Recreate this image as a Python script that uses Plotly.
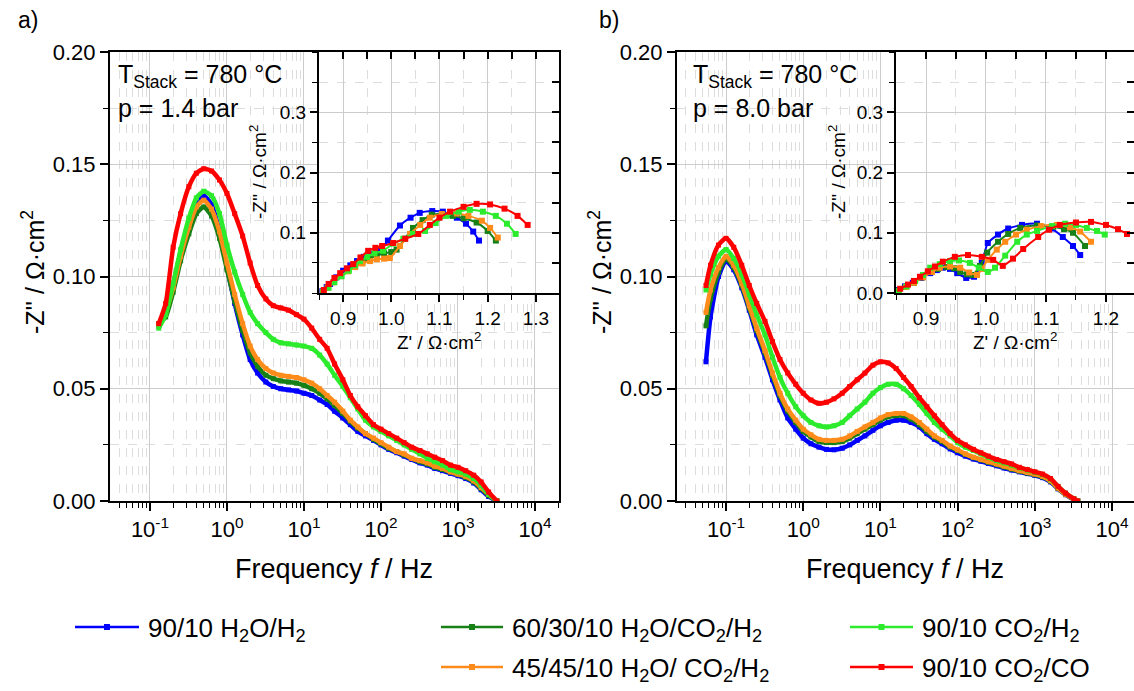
import plotly.graph_objects as go

# ---------------- data ----------------
series_names = ["90/10 H<sub>2</sub>O/H<sub>2</sub>",
                "60/30/10 H<sub>2</sub>O/CO<sub>2</sub>/H<sub>2</sub>",
                "45/45/10 H<sub>2</sub>O/ CO<sub>2</sub>/H<sub>2</sub>",
                "90/10 CO<sub>2</sub>/H<sub>2</sub>",
                "90/10 CO<sub>2</sub>/CO"]
series_colors = ["#0000FF", "#178017", "#FF8C1A", "#2CEB2C", "#FF0000"]

# Panel a: Bode plot, p = 1.4 bar
freq_a = [0.13, 0.16, 0.2, 0.25, 0.32, 0.4, 0.5, 0.63, 0.8, 1.0, 1.26, 1.6, 2.0, 2.5, 3.2,
          4.0, 5.0, 6.3, 8.0, 10, 12.6, 16, 20, 25, 32, 40, 50, 63, 80, 100, 126, 160,
          200, 250, 320, 400, 500, 630, 800, 1000, 1260, 1600, 2000, 2500, 3200]
zi_a_blue = [0.078, 0.085, 0.096, 0.111, 0.124, 0.133, 0.136, 0.132, 0.120, 0.104, 0.088, 0.074,
             0.063, 0.057, 0.053, 0.051, 0.050, 0.0495, 0.049, 0.048, 0.047, 0.045, 0.043, 0.040,
             0.037, 0.034, 0.031, 0.029, 0.027, 0.025, 0.023, 0.0215, 0.020, 0.0185, 0.017, 0.016,
             0.0145, 0.0135, 0.0123, 0.0113, 0.010, 0.008, 0.005, 0.002, 0.0]
zi_a_dkgreen = [0.079, 0.082, 0.093, 0.107, 0.119, 0.128, 0.131, 0.127, 0.117, 0.103, 0.089, 0.076,
                0.066, 0.060, 0.056, 0.0545, 0.0535, 0.053, 0.0525, 0.0515, 0.050, 0.048, 0.0455,
                0.0425, 0.039, 0.0355, 0.0325, 0.030, 0.0275, 0.0255, 0.0235, 0.022, 0.0205, 0.019,
                0.0175, 0.0165, 0.015, 0.014, 0.0128, 0.0118, 0.0105, 0.0085, 0.0055, 0.0025, 0.0]
zi_a_orange = [0.078, 0.084, 0.095, 0.109, 0.122, 0.131, 0.134, 0.130, 0.120, 0.106, 0.092, 0.079,
               0.069, 0.063, 0.059, 0.057, 0.056, 0.0555, 0.055, 0.054, 0.0525, 0.050, 0.047, 0.044,
               0.040, 0.036, 0.033, 0.030, 0.028, 0.026, 0.024, 0.022, 0.021, 0.019, 0.018, 0.017,
               0.0155, 0.0145, 0.013, 0.012, 0.011, 0.009, 0.006, 0.003, 0.0]
zi_a_green = [0.077, 0.083, 0.097, 0.112, 0.126, 0.135, 0.138, 0.136, 0.128, 0.114, 0.102, 0.092,
              0.084, 0.079, 0.075, 0.072, 0.0705, 0.070, 0.0695, 0.069, 0.068, 0.065, 0.061, 0.056,
              0.051, 0.046, 0.041, 0.036, 0.033, 0.031, 0.029, 0.027, 0.025, 0.023, 0.021, 0.019,
              0.0175, 0.016, 0.014, 0.013, 0.012, 0.010, 0.007, 0.003, 0.0]
zi_a_red = [0.079, 0.088, 0.113, 0.128, 0.140, 0.146, 0.148, 0.147, 0.143, 0.137, 0.128, 0.118,
            0.106, 0.096, 0.090, 0.087, 0.086, 0.085, 0.083, 0.081, 0.077, 0.072, 0.068, 0.061,
            0.054, 0.047, 0.042, 0.038, 0.034, 0.032, 0.030, 0.028, 0.026, 0.024, 0.0225, 0.021,
            0.0195, 0.018, 0.016, 0.015, 0.0135, 0.0115, 0.0085, 0.004, 0.0]

# Panel b: Bode plot, p = 8.0 bar
freq_b = [0.055, 0.063, 0.08, 0.1, 0.126, 0.16, 0.2, 0.25, 0.32, 0.4, 0.5, 0.63, 0.8, 1.0, 1.26,
          1.6, 2.0, 2.5, 3.2, 4.0, 5.0, 6.3, 8.0, 10, 12.6, 16, 20, 25, 32, 40, 50, 63, 80, 100,
          126, 160, 200, 250, 320, 400, 500, 630, 800, 1000, 1260, 1600, 2000, 2500, 3200, 3600]
zi_b_blue = [0.062, 0.082, 0.100, 0.107, 0.103, 0.095, 0.085, 0.074, 0.064, 0.054, 0.045, 0.037,
             0.032, 0.028, 0.0255, 0.024, 0.023, 0.0228, 0.0235, 0.025, 0.027, 0.029, 0.0315,
             0.0335, 0.035, 0.036, 0.036, 0.035, 0.033, 0.030, 0.0275, 0.0255, 0.0232, 0.0215,
             0.020, 0.0187, 0.0177, 0.0167, 0.0157, 0.0147, 0.0138, 0.013, 0.0122, 0.0114, 0.0104,
             0.0085, 0.0054, 0.0028, 0.0007, 0.0]
zi_b_dkgreen = [0.078, 0.090, 0.102, 0.108, 0.104, 0.096, 0.086, 0.076, 0.066, 0.056, 0.047, 0.040,
                0.035, 0.031, 0.0285, 0.0265, 0.026, 0.026, 0.0265, 0.028, 0.030, 0.032, 0.034,
                0.036, 0.0375, 0.038, 0.038, 0.0365, 0.034, 0.031, 0.0285, 0.0265, 0.024, 0.0225,
                0.0207, 0.0193, 0.0183, 0.0172, 0.0162, 0.0152, 0.0142, 0.0133, 0.0125, 0.0117,
                0.0107, 0.0088, 0.0056, 0.003, 0.0008, 0.0]
zi_b_orange = [0.084, 0.094, 0.104, 0.109, 0.105, 0.097, 0.087, 0.077, 0.067, 0.057, 0.048, 0.041,
               0.036, 0.032, 0.0295, 0.0275, 0.027, 0.027, 0.0275, 0.029, 0.031, 0.033, 0.035,
               0.037, 0.0385, 0.039, 0.039, 0.0375, 0.035, 0.032, 0.029, 0.027, 0.0245, 0.0228,
               0.021, 0.0195, 0.0185, 0.0175, 0.0165, 0.0155, 0.0145, 0.0135, 0.0127, 0.012, 0.011,
               0.009, 0.0058, 0.003, 0.0008, 0.0]
zi_b_green = [0.094, 0.101, 0.109, 0.112, 0.108, 0.101, 0.092, 0.083, 0.074, 0.064, 0.055, 0.048,
              0.042, 0.038, 0.035, 0.0335, 0.033, 0.0335, 0.035, 0.038, 0.041, 0.044, 0.048,
              0.0505, 0.052, 0.052, 0.050, 0.047, 0.043, 0.039, 0.035, 0.032, 0.029, 0.026, 0.024,
              0.0225, 0.021, 0.0195, 0.018, 0.017, 0.016, 0.0148, 0.0138, 0.0128, 0.0118, 0.0098,
              0.0065, 0.0035, 0.001, 0.0]
zi_b_red = [0.096, 0.105, 0.114, 0.117, 0.113, 0.105, 0.096, 0.088, 0.080, 0.071, 0.063, 0.057,
            0.052, 0.048, 0.045, 0.0435, 0.044, 0.0455, 0.048, 0.051, 0.054, 0.057, 0.0605, 0.062,
            0.0615, 0.059, 0.055, 0.051, 0.046, 0.042, 0.038, 0.034, 0.030, 0.027, 0.025, 0.023,
            0.0215, 0.020, 0.0185, 0.0175, 0.0165, 0.015, 0.014, 0.013, 0.012, 0.010, 0.0065,
            0.0035, 0.001, 0.0]

# Inset a: Nyquist, p = 1.4 bar
zr_ia_blue = [0.857, 0.866, 0.873, 0.886, 0.900, 0.915, 0.929, 0.943, 0.956, 0.968, 0.977, 0.993,
              1.018, 1.040, 1.059, 1.085, 1.107, 1.125, 1.136, 1.155, 1.170, 1.182]
zi_ia_blue = [0.003, 0.010, 0.015, 0.026, 0.037, 0.046, 0.053, 0.060, 0.065, 0.068, 0.070, 0.087,
              0.112, 0.125, 0.133, 0.136, 0.135, 0.130, 0.125, 0.115, 0.102, 0.087]
zr_ia_dkgreen = [0.858, 0.868, 0.880, 0.895, 0.910, 0.925, 0.940, 0.955, 0.970, 0.985, 1.000, 1.011,
                 1.028, 1.045, 1.065, 1.084, 1.105, 1.128, 1.150, 1.177, 1.200, 1.217]
zi_ia_dkgreen = [0.002, 0.009, 0.018, 0.028, 0.037, 0.045, 0.051, 0.057, 0.062, 0.066, 0.068, 0.072,
                 0.090, 0.108, 0.121, 0.130, 0.131, 0.128, 0.124, 0.117, 0.103, 0.087]
zr_ia_orange = [0.858, 0.868, 0.880, 0.895, 0.910, 0.925, 0.940, 0.956, 0.970, 0.985, 0.997, 1.018,
                1.039, 1.060, 1.080, 1.105, 1.136, 1.160, 1.188, 1.205, 1.221]
zi_ia_orange = [0.002, 0.009, 0.018, 0.028, 0.036, 0.043, 0.049, 0.053, 0.056, 0.057, 0.058, 0.078,
                0.098, 0.113, 0.125, 0.131, 0.132, 0.128, 0.120, 0.108, 0.092]
zr_ia_green = [0.859, 0.870, 0.882, 0.897, 0.912, 0.925, 0.935, 0.950, 0.965, 0.983, 1.004, 1.025,
               1.045, 1.070, 1.092, 1.115, 1.140, 1.163, 1.190, 1.217, 1.240, 1.258]
zi_ia_green = [0.002, 0.009, 0.018, 0.028, 0.037, 0.046, 0.053, 0.060, 0.066, 0.070, 0.082, 0.090,
               0.098, 0.103, 0.116, 0.128, 0.135, 0.138, 0.135, 0.128, 0.115, 0.098]
zr_ia_red = [0.860, 0.870, 0.882, 0.894, 0.908, 0.921, 0.936, 0.952, 0.967, 0.981, 1.004, 1.029,
             1.056, 1.080, 1.100, 1.122, 1.150, 1.177, 1.205, 1.235, 1.262, 1.283]
zi_ia_red = [0.005, 0.015, 0.025, 0.033, 0.041, 0.048, 0.059, 0.070, 0.075, 0.078, 0.083, 0.090,
             0.098, 0.113, 0.125, 0.135, 0.143, 0.148, 0.147, 0.140, 0.128, 0.113]

# Inset b: Nyquist, p = 8.0 bar
zr_ib_blue = [0.852, 0.865, 0.878, 0.892, 0.907, 0.918, 0.928, 0.940, 0.952, 0.967, 0.980, 0.993,
              1.003, 1.020, 1.037, 1.060, 1.085, 1.110, 1.128, 1.145, 1.157]
zi_ib_blue = [0.005, 0.011, 0.017, 0.025, 0.033, 0.038, 0.042, 0.040, 0.033, 0.025, 0.027, 0.050,
              0.083, 0.097, 0.107, 0.113, 0.115, 0.107, 0.093, 0.078, 0.063]
zr_ib_dkgreen = [0.853, 0.866, 0.880, 0.893, 0.907, 0.920, 0.935, 0.947, 0.957, 0.968, 0.978, 0.990,
                 1.002, 1.020, 1.037, 1.057, 1.085, 1.112, 1.130, 1.145, 1.165]
zi_ib_dkgreen = [0.004, 0.010, 0.017, 0.026, 0.035, 0.040, 0.043, 0.041, 0.035, 0.031, 0.030, 0.045,
                 0.067, 0.085, 0.098, 0.108, 0.112, 0.110, 0.106, 0.100, 0.078]
zr_ib_orange = [0.854, 0.867, 0.880, 0.895, 0.910, 0.923, 0.940, 0.957, 0.972, 0.985, 0.993, 1.003,
                1.018, 1.032, 1.050, 1.068, 1.092, 1.118, 1.140, 1.157, 1.175]
zi_ib_orange = [0.003, 0.010, 0.017, 0.026, 0.035, 0.042, 0.044, 0.042, 0.034, 0.030, 0.040, 0.055,
                0.072, 0.085, 0.097, 0.105, 0.111, 0.113, 0.109, 0.102, 0.085]
zr_ib_green = [0.855, 0.868, 0.882, 0.895, 0.907, 0.923, 0.940, 0.955, 0.973, 0.988, 1.003, 1.015,
               1.032, 1.052, 1.068, 1.085, 1.110, 1.132, 1.150, 1.168, 1.185, 1.198]
zi_ib_green = [0.003, 0.011, 0.020, 0.030, 0.042, 0.048, 0.053, 0.054, 0.050, 0.042, 0.035, 0.042,
               0.062, 0.085, 0.097, 0.103, 0.111, 0.115, 0.113, 0.108, 0.103, 0.097]
zr_ib_red = [0.857, 0.870, 0.880, 0.890, 0.903, 0.915, 0.928, 0.948, 0.970, 0.993, 1.012, 1.028,
             1.045, 1.062, 1.087, 1.105, 1.123, 1.150, 1.175, 1.200, 1.220, 1.235]
zi_ib_red = [0.007, 0.014, 0.020, 0.027, 0.036, 0.044, 0.052, 0.060, 0.063, 0.060, 0.055, 0.045,
             0.057, 0.073, 0.093, 0.105, 0.113, 0.117, 0.118, 0.113, 0.106, 0.098]

freq_tickvals = [0.1, 1, 10, 100, 1000, 10000]
freq_ticktext = ["10<sup>-1</sup>", "10<sup>0</sup>", "10<sup>1</sup>", "10<sup>2</sup>",
                 "10<sup>3</sup>", "10<sup>4</sup>"]

# ---------------- layout helpers ----------------
W, H = 1134, 691
FONT = "Liberation Sans, Arial, sans-serif"


def px(x):
    return x / W


def py(y):
    return 1 - y / H


MAIN_Y = [py(501), py(52)]
INSET_Y = [py(293), py(52)]
A_X = [px(110), px(559)]
IA_X = [px(319), px(559)]
B_X = [px(677), 1.0]
IB_X = [px(896), 1.0]

fig = go.Figure()

bode_a = [zi_a_blue, zi_a_dkgreen, zi_a_orange, zi_a_green, zi_a_red]
bode_b = [zi_b_blue, zi_b_dkgreen, zi_b_orange, zi_b_green, zi_b_red]
nyq_a = [(zr_ia_blue, zi_ia_blue), (zr_ia_dkgreen, zi_ia_dkgreen), (zr_ia_orange, zi_ia_orange),
         (zr_ia_green, zi_ia_green), (zr_ia_red, zi_ia_red)]
nyq_b = [(zr_ib_blue, zi_ib_blue), (zr_ib_dkgreen, zi_ib_dkgreen), (zr_ib_orange, zi_ib_orange),
         (zr_ib_green, zi_ib_green), (zr_ib_red, zi_ib_red)]

for i in range(5):
    fig.add_trace(go.Scatter(x=freq_a, y=bode_a[i], mode="lines+markers", name=series_names[i],
                             line=dict(color=series_colors[i], width=4.5, shape="spline", smoothing=0.6),
                             marker=dict(symbol="square", size=5, color=series_colors[i]),
                             xaxis="x", yaxis="y", showlegend=False))
for i in range(5):
    fig.add_trace(go.Scatter(x=nyq_a[i][0], y=nyq_a[i][1], mode="lines+markers", name=series_names[i],
                             line=dict(color=series_colors[i], width=2, shape="spline", smoothing=0.6),
                             marker=dict(symbol="square", size=6, color=series_colors[i]),
                             xaxis="x2", yaxis="y2", showlegend=False))
for i in range(5):
    fig.add_trace(go.Scatter(x=freq_b, y=bode_b[i], mode="lines+markers", name=series_names[i],
                             line=dict(color=series_colors[i], width=4.5, shape="spline", smoothing=0.6),
                             marker=dict(symbol="square", size=5, color=series_colors[i]),
                             xaxis="x3", yaxis="y3", showlegend=False))
for i in range(5):
    fig.add_trace(go.Scatter(x=nyq_b[i][0], y=nyq_b[i][1], mode="lines+markers", name=series_names[i],
                             line=dict(color=series_colors[i], width=2, shape="spline", smoothing=0.6),
                             marker=dict(symbol="square", size=6, color=series_colors[i]),
                             xaxis="x4", yaxis="y4", showlegend=False))
# dummy traces for mirrored inside ticks of the insets
fig.add_trace(go.Scatter(x=[None], y=[None], xaxis="x5", yaxis="y5", showlegend=False, hoverinfo="skip"))
fig.add_trace(go.Scatter(x=[None], y=[None], xaxis="x6", yaxis="y6", showlegend=False, hoverinfo="skip"))

minor_log = [m * 10 ** e for e in range(-2, 5) for m in range(2, 10)]

GRID = "#cccccc"
MGRID = "#dddddd"


def main_x(domain, rng, anchor):
    return dict(type="log", domain=domain, range=rng, anchor=anchor, automargin=False,
                showline=True, linecolor="black", linewidth=2, mirror=True,
                ticks="outside", ticklen=8, tickwidth=1.5, tickcolor="black",
                tickmode="array", tickvals=freq_tickvals, ticktext=freq_ticktext,
                tickfont=dict(family=FONT, size=22, color="black"),
                showgrid=True, gridcolor=GRID, gridwidth=1, zeroline=False,
                minor=dict(tickmode="array", tickvals=minor_log, ticks="outside", ticklen=5,
                           tickwidth=1.2, tickcolor="black", showgrid=True, gridcolor=MGRID,
                           griddash="dash", gridwidth=1))


def main_y(anchor):
    return dict(domain=MAIN_Y, range=[0, 0.2], anchor=anchor, automargin=False,
                showline=True, linecolor="black", linewidth=2, mirror=True,
                ticks="outside", ticklen=8, tickwidth=1.5, tickcolor="black",
                dtick=0.05, tick0=0, tickformat=".2f",
                tickfont=dict(family=FONT, size=22, color="black"),
                showgrid=True, gridcolor=GRID, gridwidth=1, zeroline=False,
                minor=dict(dtick=0.025, ticks="outside", ticklen=5, tickwidth=1.2, tickcolor="black",
                           showgrid=True, gridcolor=MGRID, griddash="dash", gridwidth=1))


def inset_x(domain, rng, anchor, tvals):
    return dict(domain=domain, range=rng, anchor=anchor, automargin=False,
                showline=True, linecolor="black", linewidth=2, mirror=True,
                ticks="outside", ticklen=7, tickwidth=1.5, tickcolor="black",
                tickmode="array", tickvals=tvals, ticktext=["%.1f" % v for v in tvals],
                tickfont=dict(family=FONT, size=19, color="black"),
                showgrid=True, gridcolor=GRID, gridwidth=1, zeroline=False,
                minor=dict(dtick=0.05, tick0=0.85, ticks="outside", ticklen=5, tickwidth=1.2,
                           tickcolor="black", showgrid=True, gridcolor=MGRID, griddash="dash"))


def inset_y(anchor, tvals):
    return dict(domain=INSET_Y, range=[0, 0.4], anchor=anchor, automargin=False,
                showline=True, linecolor="black", linewidth=2, mirror=True,
                ticks="outside", ticklen=7, tickwidth=1.5, tickcolor="black",
                tickmode="array", tickvals=tvals, ticktext=["%.1f" % v for v in tvals],
                tickfont=dict(family=FONT, size=19, color="black"),
                showgrid=True, gridcolor=GRID, gridwidth=1, zeroline=False,
                minor=dict(dtick=0.05, tick0=0, ticks="outside", ticklen=5, tickwidth=1.2,
                           tickcolor="black", showgrid=True, gridcolor=MGRID, griddash="dash"))


def mirror_x(over, anchor, rng, tvals):
    return dict(overlaying=over, anchor=anchor, side="top", range=rng, automargin=False,
                tickmode="array", tickvals=tvals, ticks="inside", ticklen=7, tickwidth=1.5,
                tickcolor="black", showticklabels=False, showgrid=False, showline=False,
                zeroline=False)


def mirror_y(over, anchor, tvals):
    return dict(overlaying=over, anchor=anchor, side="right", range=[0, 0.4], automargin=False,
                tickmode="array", tickvals=tvals, ticks="inside", ticklen=7, tickwidth=1.5,
                tickcolor="black", showticklabels=False, showgrid=False, showline=False,
                zeroline=False)


ia_range = [0.85, 1.348]
ib_range = [0.85, 1.2467]
ia_mtx = [0.85 + 0.05 * k for k in range(1, 10)]
ib_mtx = [0.85 + 0.05 * k for k in range(1, 8)]
my_t = [0.05 * k for k in range(1, 8)]

fig.update_layout(
    width=W, height=H, margin=dict(l=0, r=0, t=0, b=0, pad=0, autoexpand=False),
    paper_bgcolor="white", plot_bgcolor="white",
    font=dict(family=FONT, color="black"),
    xaxis=main_x(A_X, [-1.519, 4.312], "y"),
    yaxis=main_y("x"),
    xaxis2=inset_x(IA_X, ia_range, "y2", [0.9, 1.0, 1.1, 1.2, 1.3]),
    yaxis2=inset_y("x2", [0.1, 0.2, 0.3]),
    xaxis3=main_x(B_X, [-1.635, 4.285], "y3"),
    yaxis3=main_y("x3"),
    xaxis4=inset_x(IB_X, ib_range, "y4", [0.9, 1.0, 1.1, 1.2]),
    yaxis4=inset_y("x4", [0.0, 0.1, 0.2, 0.3]),
    xaxis5=mirror_x("x2", "y2", ia_range, ia_mtx),
    yaxis5=mirror_y("y2", "x2", my_t),
    xaxis6=mirror_x("x4", "y4", ib_range, ib_mtx),
    yaxis6=mirror_y("y4", "x4", my_t),
)

ann = []


def text(x, y, s, size, xanchor="center", yanchor="middle", angle=0):
    ann.append(dict(x=px(x), y=py(y), xref="paper", yref="paper", text=s, showarrow=False,
                    xanchor=xanchor, yanchor=yanchor, textangle=angle,
                    font=dict(family=FONT, size=size, color="black")))


ytitle = "-Z'' / Ω·cm<sup>2</sup>"
text(28, 20, "a)", 23)
text(609, 20, "b)", 23)
text(33, 272, ytitle, 25, angle=-90)
text(600, 272, ytitle, 25, angle=-90)
text(334, 569, "Frequency <i>f</i> / Hz", 27)
text(905, 569, "Frequency <i>f</i> / Hz", 27)
text(258, 172, ytitle, 19, angle=-90)
text(837, 172, ytitle, 19, angle=-90)
text(439, 341, "Z' / Ω·cm<sup>2</sup>", 19)
text(1015, 341, "Z' / Ω·cm<sup>2</sup>", 19)
text(116, 76, "T<sub>Stack</sub> = 780 °C", 25, xanchor="left")
text(116, 108, "p = 1.4 bar", 25, xanchor="left")
text(691, 76, "T<sub>Stack</sub> = 780 °C", 25, xanchor="left")
text(691, 108, "p = 8.0 bar", 25, xanchor="left")

# manual legend
legend_items = [(0, 75, 139, 627), (1, 441, 503, 627), (3, 850, 913, 627),
                (2, 441, 503, 667), (4, 850, 913, 667)]
shapes = []
for idx, x0, x1, yy in legend_items:
    c = series_colors[idx]
    shapes.append(dict(type="line", xref="paper", yref="paper", x0=px(x0), x1=px(x1),
                       y0=py(yy), y1=py(yy), line=dict(color=c, width=2.5)))
    xm = (x0 + x1) / 2
    shapes.append(dict(type="rect", xref="paper", yref="paper", x0=px(xm - 3), x1=px(xm + 3),
                       y0=py(yy + 3), y1=py(yy - 3), fillcolor=c, line=dict(width=0)))
    text(x1 + 7, yy + 2, series_names[idx], 26, xanchor="left")

fig.update_layout(annotations=ann, shapes=shapes)
fig.write_html("out.html")
